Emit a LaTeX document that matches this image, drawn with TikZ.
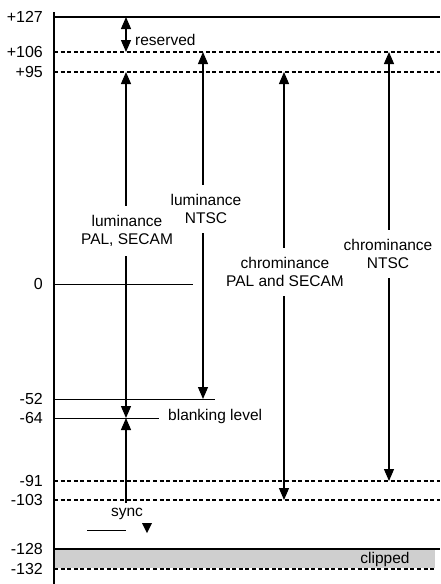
\documentclass[tikz,border=0pt]{standalone}
\usepackage{fontspec}
\setmainfont{Liberation Sans}
\usetikzlibrary{arrows.meta}
\begin{document}
\begin{tikzpicture}[x=1pt,y=-1pt,
  lvl/.style={anchor=east,inner sep=0pt,font=\fontsize{16}{18}\selectfont},
  txt/.style={inner sep=2pt,font=\fontsize{15.5}{18}\selectfont,align=center},
  cut/.style={txt,fill=white,inner ysep=9pt},
  solidln/.style={line width=1.3pt},
  dashln/.style={line width=1.1pt,dash pattern=on 4pt off 2.6pt},
  arr/.style={line width=1.2pt,-{Triangle[width=10pt,length=12pt]}},
  darr/.style={line width=1.2pt,{Triangle[width=10pt,length=12pt]}-{Triangle[width=10pt,length=12pt]}}]
\useasboundingbox (0,0) rectangle (440,584);
% axis
\coordinate (axt) at (54,12);
\coordinate (axb) at (54,584);
% level coordinates
\foreach \n/\y in {a127/17,a106/52,a95/72,a0/284,am52/399,am64/418,am91/481,am103/500,am128/549,am132/569}
  \coordinate (\n) at (54,\y);
\coordinate (e127) at (440,17);
\coordinate (e106) at (440,52);
\coordinate (e95) at (440,72);
\coordinate (e0) at (193,284);
\coordinate (em52) at (215,399);
\coordinate (em64) at (159,418);
\coordinate (em91) at (440,481);
\coordinate (em103) at (440,500);
\coordinate (em128) at (440,549);
\coordinate (em132) at (435,569);
% clipped band
\fill[gray!38] (55,550) rectangle (435,568);
\node[txt] (clip) at (385,559) {clipped};
% lines
\draw[solidln] (a127) -- (e127);
\draw[dashln] (a106) -- (e106);
\draw[dashln] (a95) -- (e95);
\draw[line width=1pt] (a0) -- (e0);
\draw[line width=1pt] (am52) -- (em52);
\draw[line width=1pt] (am64) -- (em64);
\draw[dashln] (am91) -- (em91);
\draw[dashln] (am103) -- (em103);
\draw[solidln] (am128) -- (em128);
\draw[dashln] (am132) -- (em132);
\draw[line width=1.4pt] (axt) -- (axb);
% level labels
\foreach \n/\t in {a127/+127,a106/+106,a95/+95,a0/0,am52/-52,am64/-64,am91/-91,am103/-103,am128/-128,am132/-132}
  \node[lvl] (l\n) at ([xshift=-11pt]\n) {\t};
% arrow end points
\coordinate (r1) at (126,17);
\coordinate (r2) at (126,52);
\coordinate (lp1) at (126,72);
\coordinate (lp2) at (126,418);
\coordinate (s1) at (126,503);
\coordinate (ln1) at (203,52);
\coordinate (ln2) at (203,399);
\coordinate (cp1) at (284,72);
\coordinate (cp2) at (284,500);
\coordinate (cn1) at (389,52);
\coordinate (cn2) at (389,481);
\draw[darr] (r1) -- (r2);
\draw[darr] (lp1) -- (lp2);
\draw[arr] (s1) -- (lp2);
\draw[darr] (ln1) -- (ln2);
\draw[darr] (cp1) -- (cp2);
\draw[darr] (cn1) -- (cn2);
% labels
\node[txt,anchor=west] (res) at (133,40) {reserved};
\node[cut] (lpal) at (127,231) {luminance\\PAL, SECAM};
\node[cut] (lntsc) at (206,209) {luminance\\NTSC};
\node[cut] (cpal) at (285,272) {chrominance\\PAL and SECAM};
\node[cut] (cntsc) at (388,254) {chrominance\\NTSC};
\node[txt,anchor=west] (blank) at (166,416) {blanking level};
\node[txt] (sync) at (127,514) {sync};
\coordinate (sy1) at (87,530);
\coordinate (sy2) at (126,530);
\draw[line width=1pt] (sy1) -- (sy2);
\fill (142,523) -- (152,523) -- (147,533) -- cycle;
\end{tikzpicture}
\end{document}
